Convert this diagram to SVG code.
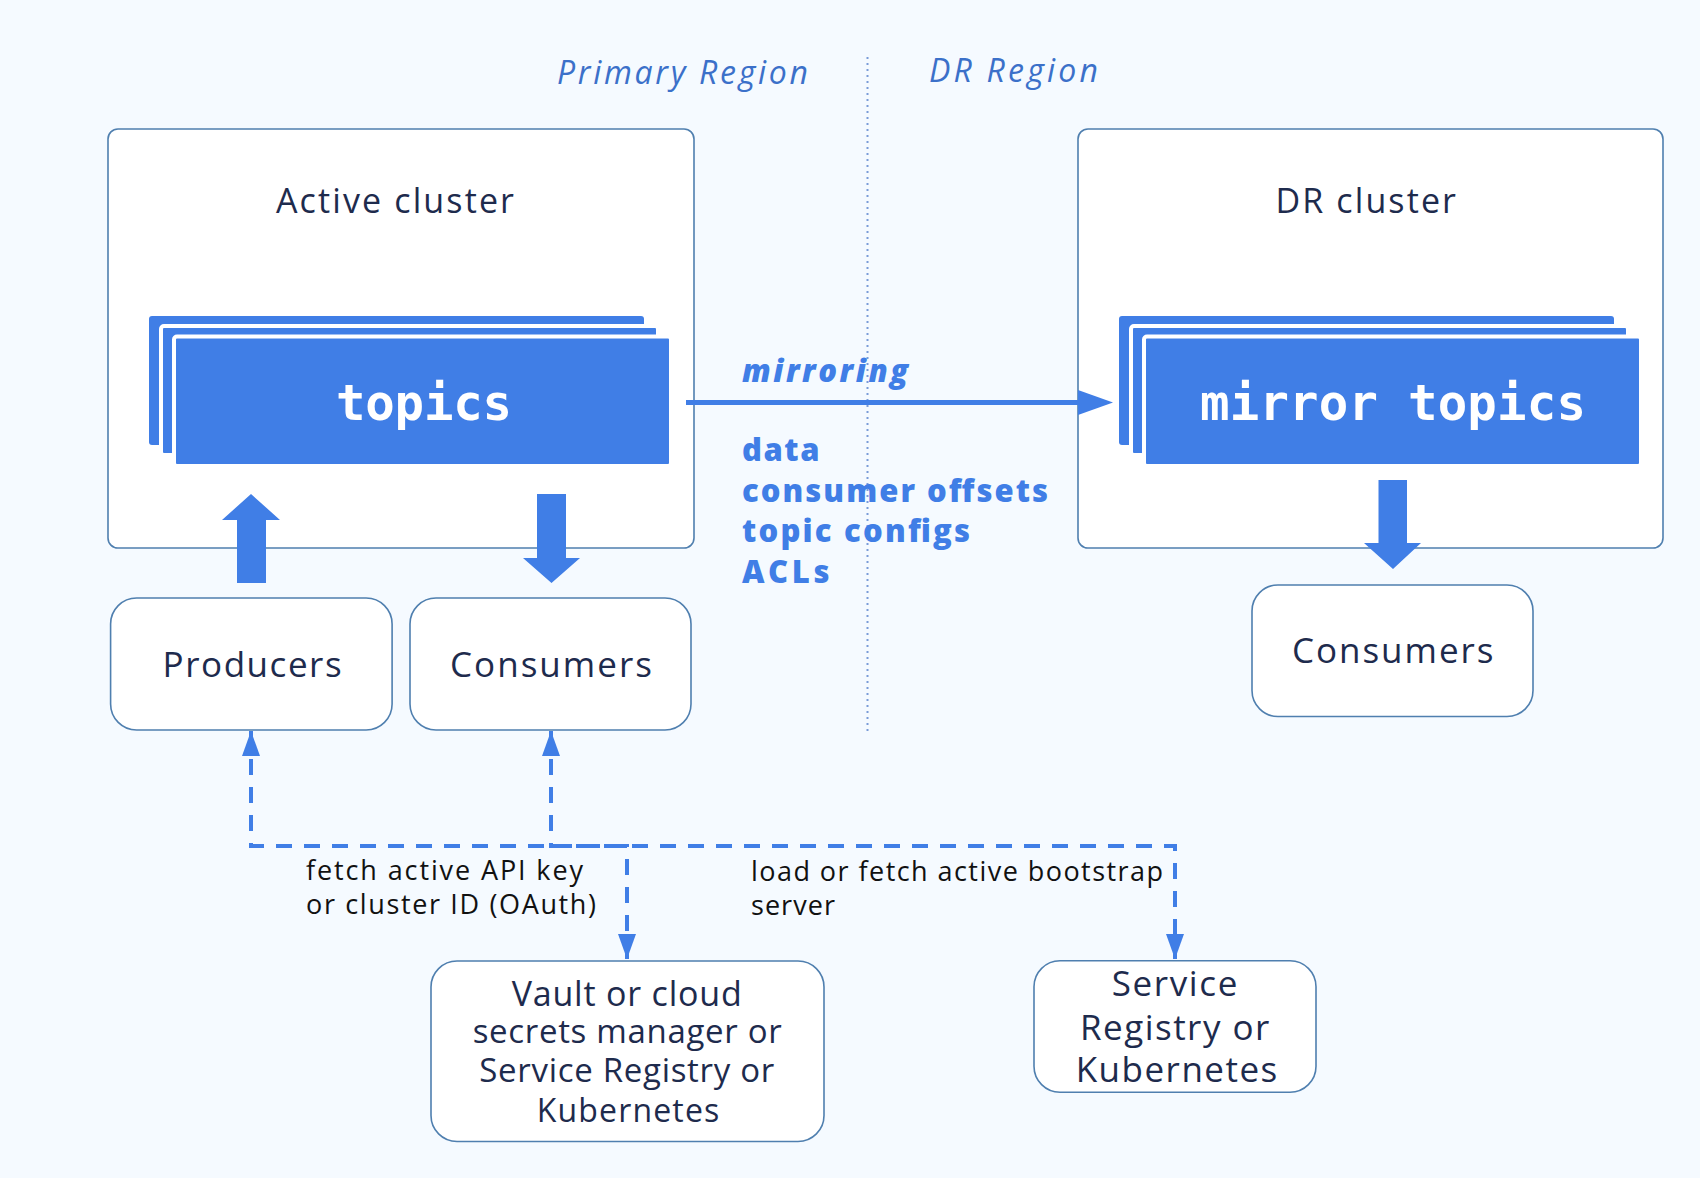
<svg xmlns="http://www.w3.org/2000/svg" width="1700" height="1178" viewBox="0 0 1700 1178">
  <defs>
    <style>
      .bg { fill: #F5FAFF; }
      .box { fill: #FFFFFF; stroke: #4F7FAF; stroke-width: 1.6; }
      .topic { fill: #407EE6; stroke: #FFFFFF; stroke-width: 4; }
      .topicback { fill: #407EE6; }
      .block { fill: #407EE6; }
      .t { font-family: "Open Sans", "Noto Sans", sans-serif; fill: #1E2B4D; }
      .region { font-family: "Open Sans", "Noto Sans", sans-serif; font-style: italic; font-size: 32px; fill: #3B70C9; }
      .mono { font-family: "DejaVu Sans Mono", "Liberation Mono", monospace; font-weight: bold; font-size: 49px; fill: #FFFFFF; }
      .blueb { font-family: "Open Sans", "Noto Sans", sans-serif; font-weight: 800; font-size: 31px; fill: #407EE6; }
      .lbl { font-family: "Open Sans", "Noto Sans", sans-serif; font-size: 27px; fill: #111111; }
      .dash { fill: none; stroke: #407EE6; stroke-width: 4; stroke-dasharray: 16 12; }
      .divider { fill: none; stroke: #7A9BD8; stroke-width: 2; stroke-dasharray: 2 4; }
    </style>
    <marker id="ah" viewBox="0 0 25 18" refX="25" refY="9" markerWidth="25" markerHeight="18" markerUnits="userSpaceOnUse" orient="auto-start-reverse">
      <path d="M0,0 L25,9 L0,18 z" fill="#407EE6"/>
    </marker>
  </defs>

  <rect class="bg" x="0" y="0" width="1700" height="1178"/>

  <!-- region labels and divider -->
  <g id="regions">
    <line class="divider" x1="867.5" y1="57" x2="867.5" y2="732"/>
    <text class="region" x="557" y="84" textLength="251" lengthAdjust="spacing">Primary Region</text>
    <text class="region" x="929" y="82" textLength="169" lengthAdjust="spacing">DR Region</text>
  </g>

  <!-- Active cluster -->
  <g id="active-cluster">
    <rect class="box" x="108" y="129" width="586" height="419" rx="10"/>
    <text class="t" x="276" y="213" font-size="34" textLength="238" lengthAdjust="spacing">Active cluster</text>
    <g id="topics">
      <rect class="topicback" x="149" y="316" width="495" height="129" rx="3"/>
      <rect class="topic" x="161" y="326" width="497" height="129" rx="3"/>
      <rect class="topic" x="174" y="336.5" width="497" height="129.5" rx="3"/>
      <text class="mono" x="336" y="420" textLength="176" lengthAdjust="spacing">topics</text>
    </g>
  </g>

  <!-- DR cluster -->
  <g id="dr-cluster">
    <rect class="box" x="1078" y="129" width="585" height="419" rx="10"/>
    <text class="t" x="1275.5" y="213" font-size="34" textLength="180.5" lengthAdjust="spacing">DR cluster</text>
    <g id="mirror-topics">
      <rect class="topicback" x="1119" y="316" width="495" height="129" rx="3"/>
      <rect class="topic" x="1131" y="326" width="497" height="129" rx="3"/>
      <rect class="topic" x="1144" y="336.5" width="497" height="129.5" rx="3"/>
      <text class="mono" x="1200" y="420" textLength="386" lengthAdjust="spacing">mirror topics</text>
    </g>
  </g>

  <!-- client nodes -->
  <g id="producers">
    <rect class="box" x="110.6" y="598" width="281.5" height="132" rx="26"/>
    <text class="t" x="162.6" y="677" font-size="35" textLength="179" lengthAdjust="spacing">Producers</text>
  </g>
  <g id="consumers-primary">
    <rect class="box" x="410" y="598" width="281" height="132" rx="26"/>
    <text class="t" x="450" y="677" font-size="35" textLength="202" lengthAdjust="spacing">Consumers</text>
  </g>
  <g id="consumers-dr">
    <rect class="box" x="1252" y="585" width="281" height="131.5" rx="26"/>
    <text class="t" x="1292" y="663" font-size="35" textLength="201.5" lengthAdjust="spacing">Consumers</text>
  </g>

  <g id="vault">
    <rect class="box" x="431" y="961" width="393" height="180.5" rx="26"/>
    <text class="t" x="511.7" y="1005.7" font-size="34" textLength="230" lengthAdjust="spacing">Vault or cloud</text>
    <text class="t" x="472.7" y="1043.3" font-size="33" textLength="309" lengthAdjust="spacing">secrets manager or</text>
    <text class="t" x="479.3" y="1082.3" font-size="33" textLength="295" lengthAdjust="spacing">Service Registry or</text>
    <text class="t" x="536.7" y="1122.3" font-size="32" textLength="182.6" lengthAdjust="spacing">Kubernetes</text>
  </g>

  <g id="service-registry">
    <rect class="box" x="1034" y="960.7" width="282" height="131.5" rx="26"/>
    <text class="t" x="1111.7" y="996.3" font-size="35" textLength="125.6" lengthAdjust="spacing">Service</text>
    <text class="t" x="1080" y="1039.7" font-size="35" textLength="189.3" lengthAdjust="spacing">Registry or</text>
    <text class="t" x="1075.7" y="1082" font-size="35" textLength="201.6" lengthAdjust="spacing">Kubernetes</text>
  </g>

  <!-- connectors -->
  <g id="connectors">
    <!-- mirroring arrow -->
    <line x1="686" y1="402.5" x2="1080" y2="402.5" stroke="#407EE6" stroke-width="5"/>
    <polygon class="block" points="1078,390 1113,402.5 1078,415"/>
    <text class="blueb" x="742" y="382" font-size="34" font-style="italic" textLength="166" lengthAdjust="spacing">mirroring</text>
    <text class="blueb" x="742" y="461" textLength="77.5" lengthAdjust="spacing">data</text>
    <text class="blueb" x="742" y="501.5" textLength="306" lengthAdjust="spacing">consumer offsets</text>
    <text class="blueb" x="742" y="542" textLength="228" lengthAdjust="spacing">topic configs</text>
    <text class="blueb" x="742" y="582.5" textLength="87.5" lengthAdjust="spacing">ACLs</text>

    <!-- block arrows -->
    <polygon class="block" points="237,583 266,583 266,520 280,520 251,494 222,520 237,520"/>
    <polygon class="block" points="537,494 566,494 566,558 580,558 551.5,583 523,558 537,558"/>
    <polygon class="block" points="1378.5,480 1407,480 1407,543 1421,543 1393,569 1364,543 1378.5,543"/>

    <!-- dashed lookups -->
    <path class="dash" d="M251,731 V846 H627 V959" marker-start="url(#ah)" marker-end="url(#ah)"/>
    <path class="dash" d="M551,731 V846 H1175 V959" marker-start="url(#ah)" marker-end="url(#ah)"/>
    <text class="lbl" x="306" y="880" textLength="277" lengthAdjust="spacing">fetch active API key</text>
    <text class="lbl" x="306" y="914" textLength="290" lengthAdjust="spacing">or cluster ID (OAuth)</text>
    <text class="lbl" x="751" y="881" textLength="412" lengthAdjust="spacing">load or fetch active bootstrap</text>
    <text class="lbl" x="751" y="915" textLength="84" lengthAdjust="spacing">server</text>
  </g>
</svg>
